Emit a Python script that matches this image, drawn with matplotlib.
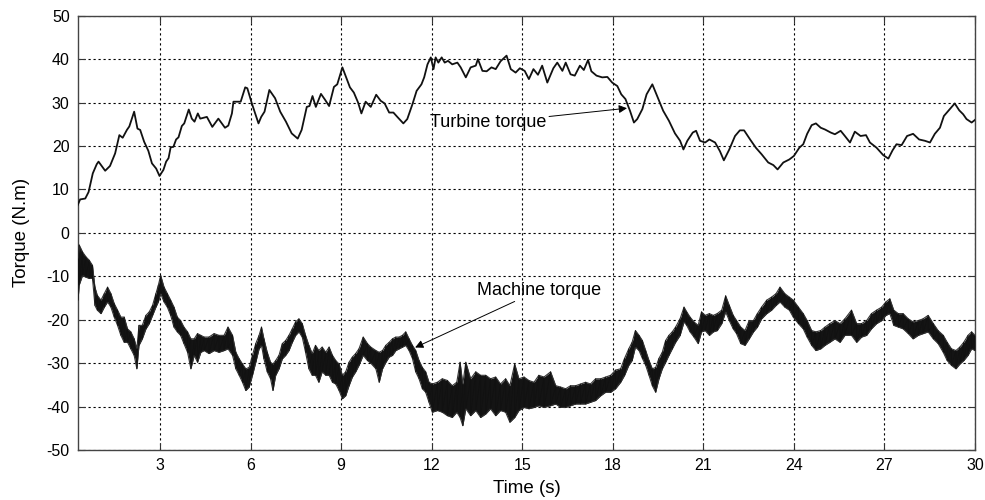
import numpy as np
import matplotlib.pyplot as plt

plt.rcParams['font.family'] = ['Liberation Sans', 'DejaVu Sans']
plt.rcParams['axes.unicode_minus'] = False

# Turbine torque (N.m) against time (s)
turbine_t = [0.27, 0.35, 0.52, 0.63, 0.77, 0.90, 0.96, 1.18, 1.34, 1.51, 1.65, 1.76,
             1.90, 1.98, 2.14, 2.25, 2.34, 2.47, 2.61, 2.73, 2.87, 2.98, 3.11, 3.20,
             3.28, 3.35, 3.44, 3.53, 3.61, 3.72, 3.80, 3.95, 4.05, 4.14, 4.25, 4.33,
             4.55, 4.73, 4.93, 5.15, 5.26, 5.38, 5.43, 5.67, 5.82, 5.89, 6.04, 6.26,
             6.35, 6.46, 6.62, 6.81, 6.98, 7.17, 7.36, 7.56, 7.69, 7.86, 7.95, 8.05,
             8.16, 8.33, 8.47, 8.60, 8.76, 8.87, 9.04, 9.29, 9.42, 9.56, 9.67, 9.81,
             9.98, 10.16, 10.31, 10.44, 10.59, 10.73, 10.86, 11.06, 11.19, 11.36, 11.50,
             11.66, 11.75, 11.86, 11.97, 12.06, 12.13, 12.22, 12.33, 12.43, 12.54, 12.68,
             12.85, 12.96, 13.13, 13.29, 13.46, 13.53, 13.68, 13.82, 13.98, 14.12, 14.28,
             14.48, 14.62, 14.78, 14.92, 15.08, 15.22, 15.37, 15.52, 15.66, 15.83, 16.03,
             16.16, 16.33, 16.44, 16.60, 16.74, 16.91, 17.04, 17.18, 17.29, 17.46, 17.65,
             17.82, 17.98, 18.15, 18.28, 18.42, 18.57, 18.70, 18.81, 18.98, 19.12, 19.31,
             19.47, 19.67, 19.86, 20.06, 20.23, 20.34, 20.47, 20.65, 20.76, 20.89, 21.06,
             21.20, 21.39, 21.55, 21.68, 21.86, 22.05, 22.21, 22.35, 22.55, 22.74, 22.93,
             23.15, 23.32, 23.46, 23.65, 23.85, 24.00, 24.18, 24.31, 24.44, 24.59, 24.73,
             24.89, 25.03, 25.22, 25.36, 25.55, 25.69, 25.86, 26.02, 26.21, 26.39, 26.52,
             26.74, 26.96, 27.13, 27.27, 27.40, 27.57, 27.75, 27.95, 28.15, 28.34, 28.51,
             28.67, 28.84, 28.97, 29.17, 29.33, 29.48, 29.61, 29.72, 29.89, 30.00]
turbine_q = [6.4, 7.7, 7.9, 9.4, 13.7, 15.8, 16.4, 14.3, 15.4, 18.3, 22.5, 21.9,
             23.7, 24.5, 27.9, 24.0, 23.7, 21.0, 18.9, 16.0, 14.8, 13.1, 14.5, 16.4,
             17.2, 19.7, 19.8, 21.5, 22.0, 24.6, 25.2, 28.4, 26.3, 25.6, 27.5, 26.3,
             26.7, 24.4, 26.3, 24.2, 24.7, 27.5, 30.2, 30.2, 33.5, 33.3, 29.8, 25.2,
             26.7, 27.9, 32.9, 31.0, 27.9, 25.6, 22.9, 21.7, 23.7, 29.0, 29.2, 31.5,
             29.0, 32.0, 30.6, 29.2, 33.6, 34.2, 38.1, 33.5, 32.3, 30.0, 27.5, 30.2,
             29.0, 31.8, 30.4, 29.8, 27.7, 27.7, 26.7, 25.2, 26.2, 29.6, 32.7,
             34.2, 35.8, 38.8, 40.4, 37.7, 40.4, 39.2, 40.4, 39.2, 39.6, 38.8,
             39.2, 38.1, 35.8, 38.1, 38.5, 40.0, 37.3, 37.2, 38.1, 37.7, 39.5,
             40.8, 37.7, 36.9, 37.9, 37.3, 35.4, 37.7, 36.4, 38.5, 34.6, 37.9,
             39.2, 37.3, 39.2, 36.5, 36.2, 38.5, 37.5, 39.8, 37.2, 36.2, 35.8,
             35.9, 34.6, 33.8, 31.9, 30.8, 28.1, 25.4, 26.2, 28.5, 31.9, 34.2,
             31.5, 28.1, 25.8, 22.9, 21.2, 19.2, 21.2, 23.1, 23.5, 21.2, 20.8,
             21.5, 20.8, 18.8, 16.7, 19.2, 22.3, 23.6, 23.6, 21.5, 19.6, 18.1,
             16.2, 15.6, 14.6, 16.2, 16.9, 17.7, 19.6, 20.4, 22.8, 24.8, 25.2,
             24.2, 23.8, 23.1, 22.7, 23.5, 22.3, 20.8, 23.3, 22.3, 22.5, 20.8,
             19.6, 17.9, 17.1, 19.0, 20.4, 20.2, 22.3, 22.8, 21.5, 21.2, 20.8,
             22.8, 24.2, 26.9, 28.5, 29.8, 28.2, 27.3, 26.2, 25.4, 26.0]

# Machine torque: upper and lower edge of the noisy trace
machine_t = [0.28, 0.32, 0.43, 0.54, 0.65, 0.76, 0.84, 0.92, 1.04, 1.15, 1.26, 1.37,
             1.48, 1.59, 1.70, 1.81, 1.92, 2.03, 2.14, 2.23, 2.30, 2.41, 2.53, 2.64,
             2.75, 2.86, 2.94, 3.02, 3.13, 3.24, 3.35, 3.46, 3.57, 3.68, 3.79, 3.91,
             4.02, 4.13, 4.24, 4.35, 4.46, 4.62, 4.79, 4.95, 5.12, 5.25, 5.40, 5.51,
             5.62, 5.73, 5.84, 5.95, 6.06, 6.17, 6.28, 6.36, 6.44, 6.55, 6.66, 6.74,
             6.83, 6.94, 7.05, 7.16, 7.27, 7.38, 7.49, 7.60, 7.71, 7.82, 7.93, 8.04,
             8.15, 8.26, 8.37, 8.49, 8.60, 8.71, 8.82, 8.93, 9.04, 9.15, 9.26, 9.37,
             9.48, 9.59, 9.73, 9.87, 9.98, 10.15, 10.26, 10.37, 10.48, 10.59, 10.70,
             10.81, 10.92, 11.03, 11.14, 11.25, 11.36, 11.47, 11.58, 11.69, 11.80, 11.91,
             12.02, 12.19, 12.35, 12.52, 12.68, 12.83, 12.94, 13.03, 13.13, 13.29, 13.46,
             13.62, 13.79, 13.95, 14.12, 14.28, 14.45, 14.59, 14.75, 14.89, 15.06, 15.22,
             15.39, 15.55, 15.72, 15.94, 16.11, 16.27, 16.44, 16.60, 16.77, 16.93, 17.10,
             17.26, 17.43, 17.60, 17.76, 17.93, 18.09, 18.26, 18.39, 18.53, 18.64, 18.75,
             18.87, 18.98, 19.09, 19.20, 19.31, 19.42, 19.53, 19.64, 19.75, 19.86, 19.97,
             20.08, 20.23, 20.36, 20.45, 20.56, 20.69, 20.83, 20.94, 21.06, 21.20, 21.33,
             21.46, 21.61, 21.74, 21.86, 21.99, 22.10, 22.24, 22.38, 22.52, 22.66, 22.79,
             22.93, 23.10, 23.26, 23.41, 23.54, 23.70, 23.85, 23.98, 24.15, 24.31, 24.44,
             24.59, 24.73, 24.89, 25.03, 25.19, 25.36, 25.53, 25.69, 25.91, 26.08, 26.24,
             26.41, 26.57, 26.74, 26.91, 27.05, 27.18, 27.31, 27.46, 27.62, 27.79, 27.95,
             28.12, 28.28, 28.45, 28.62, 28.78, 28.95, 29.08, 29.22, 29.37, 29.50, 29.63,
             29.77, 29.89, 30.00]
machine_hi = [-6.0, -2.8, -4.4, -5.5, -6.3, -7.5, -12.5, -14.4, -15.5, -14.0, -12.5, -14.0,
              -16.3, -17.8, -19.4, -19.4, -22.1, -22.8, -24.4, -26.7, -21.3, -21.3, -19.0, -18.2,
              -16.7, -14.0, -12.1, -9.8, -12.5, -14.0, -15.5, -17.1, -19.4, -20.2, -21.7, -22.8,
              -24.4, -24.4, -23.2, -23.6, -24.0, -24.0, -23.2, -23.6, -23.6, -21.7, -23.6, -27.5,
              -29.0, -30.2, -31.3, -31.0, -28.2, -25.5, -23.6, -21.7, -24.4, -27.5, -29.8, -30.2,
              -29.4, -28.2, -25.5, -24.8, -23.6, -22.1, -20.5, -19.8, -20.9, -23.6, -25.9, -27.8,
              -25.9, -27.1, -26.3, -27.5, -26.3, -28.2, -29.4, -30.2, -32.8, -32.0, -29.8, -28.6,
              -27.8, -26.7, -24.0, -25.5, -26.3, -27.1, -27.5, -27.1, -25.9, -25.2, -24.4,
              -24.0, -24.0, -23.6, -22.8, -24.4, -25.9, -27.1, -29.4, -31.0, -32.0, -34.4,
              -34.8, -34.4, -33.6, -34.0, -35.2, -34.4, -29.8, -34.8, -29.8, -33.6, -32.0,
              -32.8, -32.8, -33.6, -33.2, -34.8, -33.6, -35.2, -30.2, -33.6, -33.2, -34.0,
              -34.4, -32.8, -33.2, -32.0, -35.2, -35.5, -35.9, -35.2, -35.2, -34.8, -34.4,
              -34.8, -33.6, -33.6, -33.2, -32.8, -31.6, -31.3, -28.9, -26.7, -25.2, -22.5,
              -23.6, -24.8, -27.1, -29.4, -31.3, -31.0, -28.9, -27.5, -24.8, -23.6, -22.8,
              -21.7, -19.8, -17.1, -18.2, -19.4, -20.5, -21.3, -18.2, -19.0, -18.6, -19.0,
              -18.6, -17.8, -14.5, -16.7, -19.0, -20.2, -21.7, -22.5, -20.2, -20.2, -18.6,
              -17.1, -15.5, -14.8, -14.0, -12.5, -14.0, -14.8, -15.5, -17.1, -18.6, -20.2,
              -22.5, -22.8, -22.5, -21.7, -20.9, -20.2, -20.9, -19.8, -17.8, -20.9, -20.9,
              -20.2, -18.6, -17.8, -17.1, -15.9, -15.2, -17.8, -18.6, -18.6, -19.8, -20.5,
              -20.2, -19.8, -19.0, -20.9, -22.5, -23.6, -25.2, -26.7, -27.1, -26.3, -25.2,
              -23.6, -22.8, -23.6]
machine_lo = [-15.5, -12.0, -9.8, -10.2, -10.5, -10.5, -16.7, -17.8, -18.6, -17.1, -15.9, -17.1,
              -19.4, -21.3, -23.6, -25.2, -25.2, -26.7, -28.2, -31.3, -25.9, -24.4, -22.1, -20.9,
              -19.0, -17.1, -15.9, -14.0, -15.9, -17.1, -19.0, -21.7, -22.8, -23.6, -25.5, -27.5,
              -31.3, -28.2, -29.8, -27.5, -27.1, -27.8, -27.1, -27.5, -27.1, -26.7, -28.2, -31.3,
              -32.8, -34.4, -36.3, -35.5, -32.8, -29.8, -26.7, -25.9, -29.0, -32.0, -33.6, -36.3,
              -32.8, -31.3, -29.0, -28.2, -27.1, -25.2, -23.6, -22.8, -24.0, -27.5, -31.3, -32.8,
              -32.8, -34.4, -32.0, -32.8, -32.8, -34.4, -34.8, -36.3, -38.2, -37.5, -35.2, -33.2,
              -32.0, -30.5, -28.2, -29.4, -30.0, -31.3, -34.4, -31.3, -29.8, -28.6, -28.2,
              -27.1, -26.7, -26.3, -25.9, -27.1, -28.9, -32.0, -33.6, -35.9, -36.7, -39.0,
              -41.3, -40.9, -41.3, -42.1, -42.5, -41.3, -42.5, -44.4, -40.5, -42.1, -40.9,
              -42.5, -41.7, -40.5, -42.1, -40.9, -41.3, -43.6, -42.5, -40.9, -40.2, -40.5,
              -40.2, -39.8, -40.2, -39.8, -39.4, -40.2, -40.2, -39.8, -39.4, -39.4, -39.4,
              -39.0, -38.6, -37.5, -36.7, -36.7, -35.9, -34.4, -32.8, -30.5, -29.4, -26.3,
              -27.1, -28.9, -30.5, -32.8, -35.2, -36.7, -33.6, -31.3, -29.8, -28.2, -26.7,
              -25.2, -23.6, -20.5, -21.3, -22.8, -24.0, -25.5, -22.8, -22.5, -23.6, -22.8,
              -22.5, -20.9, -18.2, -20.2, -22.1, -23.2, -25.5, -25.9, -24.4, -22.8, -21.7,
              -19.8, -18.6, -17.8, -16.7, -15.9, -17.1, -17.8, -19.4, -20.9, -22.1, -24.0,
              -25.9, -27.1, -26.7, -25.9, -25.2, -24.4, -25.2, -23.6, -23.6, -25.2, -24.0,
              -23.6, -22.1, -20.9, -20.2, -19.0, -18.6, -21.3, -21.7, -22.1, -23.2, -24.4,
              -23.6, -23.2, -22.8, -24.4, -25.5, -27.5, -29.4, -30.5, -31.3, -30.2, -29.4,
              -28.2, -26.7, -27.1]

x_ticks = [3, 6, 9, 12, 15, 18, 21, 24, 27, 30]
y_ticks = [-50, -40, -30, -20, -10, 0, 10, 20, 30, 40, 50]

fig = plt.figure(figsize=(9.85, 5), dpi=100)
ax = fig.add_axes([0.0792, 0.10, 0.9106, 0.8686])

# machine torque drawn as a dense band between its edges
mt = np.array(machine_t)
hi = np.array(machine_hi)
lo = np.array(machine_lo)
ax.fill_between(mt, lo, hi, color='#141414', lw=0, zorder=3)
ax.plot(mt, hi, color='#333333', lw=0.8, zorder=3)
ax.plot(mt, lo, color='#333333', lw=0.8, zorder=3)
zig_x = np.column_stack([mt, mt]).ravel()
zig_y = np.column_stack([hi, lo]).ravel()
ax.plot(zig_x, zig_y, color='#111111', lw=0.6, zorder=3)

ax.plot(turbine_t, turbine_q, color='#111111', lw=1.3, zorder=4)

ax.set_xlim(0.28, 30)
ax.set_ylim(-50, 50)
ax.set_xticks(x_ticks)
ax.set_yticks(y_ticks)
ax.tick_params(direction='in', length=5, top=True, right=True,
               labelsize=11.5, pad=6, color='#333333')
ax.grid(True, color='black', linestyle=(0, (2, 2.5)), linewidth=0.8)
for s in ax.spines.values():
    s.set_color('#444444')
    s.set_linewidth(1.0)

ax.set_xlabel('Time (s)', fontsize=13.5, labelpad=5)
ax.set_ylabel('Torque (N.m)', fontsize=13.5, labelpad=12)

arrow = dict(arrowstyle='-|>', color='black', lw=0.7, mutation_scale=12,
             shrinkA=0, shrinkB=0)
ax.annotate('Turbine torque', xy=(18.47, 28.7), xytext=(11.94, 25.3),
            fontsize=13, va='center', ha='left', arrowprops=arrow, zorder=5)
ax.annotate('Machine torque', xy=(11.45, -26.4), xytext=(13.5, -13.2),
            fontsize=13, va='center', ha='left', arrowprops=arrow, zorder=5)

fig.savefig('out.png', dpi=100)
